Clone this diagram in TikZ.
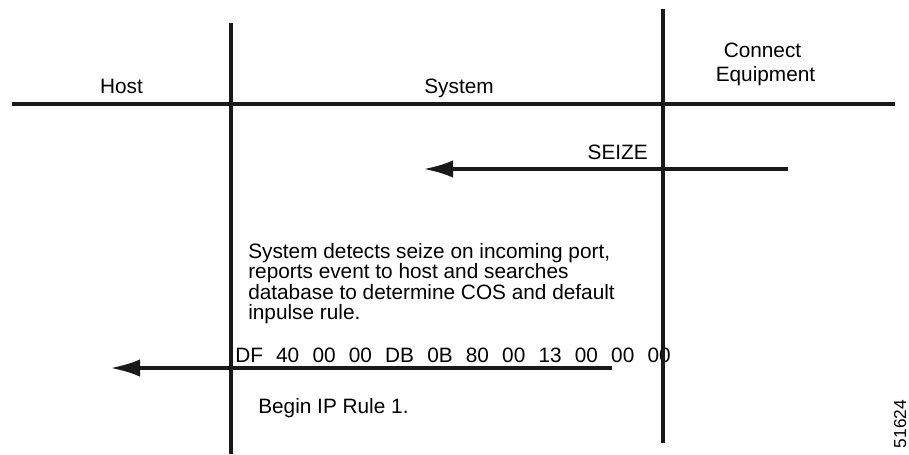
\documentclass[tikz,border=0pt]{standalone}
\usepackage{fontspec}
\setmainfont{Liberation Sans}
\usetikzlibrary{arrows.meta}
\newcommand{\hexgap}{\hspace{9.9pt}}
\begin{document}
\begin{tikzpicture}[x=0.75pt,y=-0.75pt,
  lbl/.style={inner sep=0pt,font=\fontsize{15.6}{14.5}\selectfont},
  rule/.style={line width=3.6pt,black!90},
  msg/.style={line width=3pt,black!90,-{Latex[length=22.5pt,width=13pt]}}]
\useasboundingbox (0,0) rectangle (909,454);

% column headings
\node[lbl,anchor=base] (host) at (121.5,93) {Host};
\node[lbl,anchor=base] (sys) at (459,93) {System};
\node[lbl,anchor=base] (ceq1) at (762.5,57) {Connect};
\node[lbl,anchor=base] (ceq2) at (765.5,81) {Equipment};

% messages and notes
\node[lbl,anchor=base east] (seize) at (648,159) {SEIZE};
\node[lbl,anchor=base west] (hex) at (235,362)
  {DF\hexgap 40\hexgap 00\hexgap 00\hexgap DB\hexgap 0B\hexgap 80\hexgap 00\hexgap 13\hexgap 00\hexgap 00\hexgap 00};
% the base of a multi-line node is the baseline of its last line
\node[lbl,anchor=base west,align=left] (note) at (248,319)
  {System detects seize on incoming port,\\
   reports event to host and searches\\
   database to determine COS and default\\
   inpulse rule.};
\node[lbl,anchor=base west] (rule1) at (258,413) {Begin IP Rule 1.};
\node[inner sep=0pt,font=\fontsize{13}{13}\selectfont,rotate=90,anchor=base] (fig) at (906,424) {51624};

% frame: header line and lifelines
\coordinate (hl) at (12,104);
\coordinate (hr) at (895,104);
\coordinate (l1t) at (231,23);
\coordinate (l1b) at (231,454);
\coordinate (l2t) at (663,9);
\coordinate (l2b) at (663,443);
\draw[rule] (hl) -- (hr);
\draw[rule] (l1t) -- (l1b);
\draw[rule] (l2t) -- (l2b);

% message arrows
\coordinate (s1) at (788,169);
\coordinate (s2) at (423,169);
\coordinate (h1) at (612,368);
\coordinate (h2) at (110,368);
\draw[msg] (s1) -- (s2);
\draw[msg] (h1) -- (h2);
\end{tikzpicture}
\end{document}
